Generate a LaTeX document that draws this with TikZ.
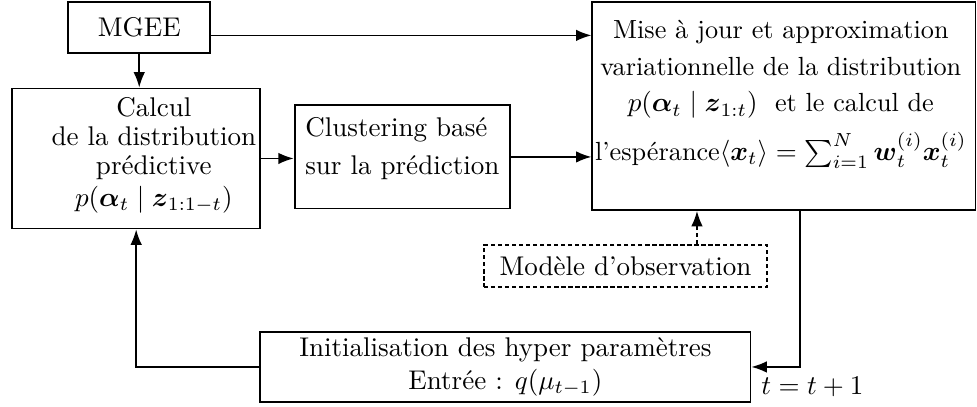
\documentclass[tikz,border=0pt]{standalone}
\usepackage{amsmath}
\usepackage{tikz}
\usetikzlibrary{calc,positioning,arrows.meta}
\tikzset{
  line/.style={-Latex, line width=0.6pt},
  box/.style={draw, line width=0.7pt, align=center, inner sep=2pt},
  dashbox/.style={box, dash pattern=on 1.6pt off 1pt}
}

\begin{document}
\begin{tikzpicture}[>=Latex]
  \useasboundingbox (0,0) rectangle (12.70,5.28);

  \node[box, minimum width=1.85cm, minimum height=0.66cm] (mgee) at (1.81,4.92) {MGEE};

  \node[box, minimum width=3.22cm, minimum height=1.82cm] (calcul) at (1.77,3.22) {};
  \node[align=center, inner sep=0pt, font=\fontsize{10}{10.8}\selectfont] (calcultxt) at (2.00,3.26)
    {Calcul\\ de la distribution\\ prédictive\\[1pt] $p(\boldsymbol{\alpha}_t \mid \boldsymbol{z}_{1:1-t})$};

  \node[box, align=left, minimum width=2.80cm, minimum height=1.34cm] (clust) at (5.23,3.24)
    {Clustering basé\\[2pt] sur la prédiction\\[-4pt]};

  \node[box, minimum width=4.98cm, minimum height=2.70cm] (mise) at (10.19,3.90) {};
  \node[align=center, inner sep=0pt, font=\fontsize{9.7}{12}\selectfont] (misetxt) at (10.15,4.05)
    {Mise à jour et approximation\\[1.5pt]
     variationnelle de la distribution\\[1.5pt]
     $p(\boldsymbol{\alpha}_t \mid \boldsymbol{z}_{1:t})$\ \ et le calcul de\\[4pt]
     l'espérance$\langle \boldsymbol{x}_t \rangle = \sum_{i=1}^{N} \boldsymbol{w}_t^{(i)} \boldsymbol{x}_t^{(i)}$};

  \node[dashbox, minimum width=3.68cm, minimum height=0.55cm] (model) at (8.13,1.82) {Modèle d'observation};

  \node[box, minimum width=6.37cm, minimum height=0.91cm] (init) at (6.57,0.51)
    {Initialisation des hyper paramètres\\ Entrée : $q(\mu_{t-1})$};

  \node (incr) at (10.56,0.25) {$t=t+1$};

  % connectors
  \draw[line] ([yshift=-0.1cm]mgee.east) -- ([yshift=-0.1cm]mgee.east -| mise.west);
  \draw[line] (mgee.south) -- (mgee.south |- calcul.north);
  \draw[line] (calcul.east) -- (calcul.east -| clust.west);
  \draw[line] (clust.east) -- (clust.east -| mise.west);
  \draw[line, dash pattern=on 1.6pt off 1pt] ([xshift=0.93cm]model.north) -- ([xshift=0.93cm]model.north |- mise.south);
  \draw[line] ([xshift=0.21cm]mise.south) |- (init.east);
  \draw[line] (init.west) -| (calcul.south);
\end{tikzpicture}
\end{document}
